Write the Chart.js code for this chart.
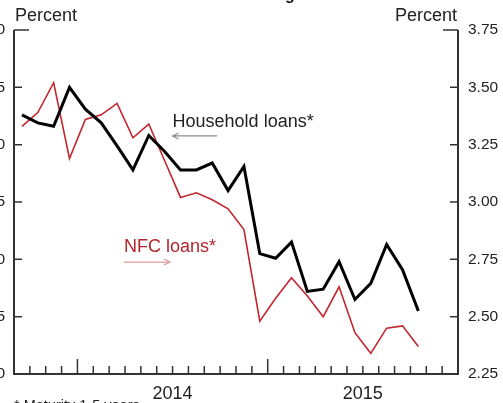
<!DOCTYPE html>
<html>
<head>
<meta charset="utf-8">
<script src="https://cdn.jsdelivr.net/npm/chart.js@4.4.0/dist/chart.umd.min.js"></script>
<style>
html, body { margin: 0; padding: 0; background: #fff; width: 503px; height: 403px; overflow: hidden; }
#wrap { position: absolute; left: -40px; top: -20px; width: 600px; height: 440px; }
</style>
</head>
<body>
<div id="wrap"><canvas id="myChart"></canvas></div>
<script>
// monthly observations, Sep 2013 - Oct 2015
var months = ['Sep 13', 'Oct 13', 'Nov 13', 'Dec 13',
    'Jan 14', 'Feb 14', 'Mar 14', 'Apr 14', 'May 14', 'Jun 14', 'Jul 14', 'Aug 14', 'Sep 14', 'Oct 14', 'Nov 14', 'Dec 14',
    'Jan 15', 'Feb 15', 'Mar 15', 'Apr 15', 'May 15', 'Jun 15', 'Jul 15', 'Aug 15', 'Sep 15', 'Oct 15'];
var householdLoans = [5.26, 5.19, 5.16, 5.50, 5.31, 5.19, 4.99, 4.78, 5.08, 4.94, 4.78, 4.78, 4.84,
    4.60, 4.81, 4.05, 4.01, 4.15, 3.72, 3.74, 3.98, 3.65, 3.79, 4.13, 3.91, 3.55];
var nfcLoans = [3.33, 3.39, 3.52, 3.19, 3.36, 3.38, 3.43, 3.28, 3.34, 3.18, 3.02, 3.04, 3.01,
    2.97, 2.88, 2.48, 2.58, 2.67, 2.59, 2.50, 2.63, 2.43, 2.34, 2.45, 2.46, 2.37];
var leftTicks = [3.0, 3.5, 4.0, 4.5, 5.0, 5.5, 6.0];
var rightTicks = [2.25, 2.50, 2.75, 3.00, 3.25, 3.50, 3.75];
var years = ['2014', '2015'];
var yearStart = [4, 16];   // month index where each year begins
var monthCount = 28;       // axis runs Sep 2013 - Dec 2015

var FONT = '"Liberation Sans", Arial, Helvetica, sans-serif';

function pts(arr) {
    return arr.map(function (v, i) { return { x: i + 0.5, y: v }; });
}

var decor = {
    id: 'decor',
    afterDraw: function (chart) {
        var c = chart.ctx, a = chart.chartArea;
        var xs = chart.scales.x, yl = chart.scales.y, yr = chart.scales.y2;
        c.save();
        // axes
        c.strokeStyle = '#333';
        c.lineWidth = 2;
        c.beginPath();
        c.moveTo(a.left, a.top); c.lineTo(a.left, a.bottom); c.lineTo(a.right, a.bottom); c.lineTo(a.right, a.top);
        c.stroke();
        c.lineWidth = 1.5;
        c.beginPath();
        leftTicks.forEach(function (v, i) {
            var y = yl.getPixelForValue(v);
            var len = i === leftTicks.length - 1 ? 15 : 8;
            c.moveTo(a.left, y); c.lineTo(a.left + len, y);
        });
        rightTicks.forEach(function (v, i) {
            var y = yr.getPixelForValue(v);
            var len = i === rightTicks.length - 1 ? 15 : 8;
            c.moveTo(a.right, y); c.lineTo(a.right - len, y);
        });
        for (var m = 1; m < monthCount; m++) {
            var x = xs.getPixelForValue(m);
            var len = yearStart.indexOf(m) >= 0 ? 15 : 8;
            c.moveTo(x, a.bottom); c.lineTo(x, a.bottom - len);
        }
        c.stroke();

        // unit labels
        c.fillStyle = '#222';
        c.font = '18px ' + FONT;
        c.textBaseline = 'alphabetic';
        c.textAlign = 'left';
        c.fillText('Percent', a.left + 1, a.top - 9);
        c.textAlign = 'right';
        c.fillText('Percent', a.right - 1, a.top - 9);

        // series labels
        c.textAlign = 'left';
        c.fillText('Household loans*', xs.getPixelForValue(10), yr.getPixelForValue(3.327));
        c.fillStyle = '#b5262d';
        c.fillText('NFC loans*', xs.getPixelForValue(6.94), yr.getPixelForValue(2.782));

        // arrows
        c.lineWidth = 1.2;
        c.strokeStyle = '#8c8c8c';
        var ay = yr.getPixelForValue(3.288), ax0 = xs.getPixelForValue(10), ax1 = xs.getPixelForValue(12.8);
        c.beginPath();
        c.moveTo(ax1, ay); c.lineTo(ax0, ay);
        c.moveTo(ax0 + 6, ay - 3); c.lineTo(ax0, ay); c.lineTo(ax0 + 6, ay + 3);
        c.stroke();
        c.strokeStyle = '#e29a9c';
        var by = yr.getPixelForValue(2.738), bx0 = xs.getPixelForValue(6.94), bx1 = xs.getPixelForValue(9.84);
        c.beginPath();
        c.moveTo(bx0, by); c.lineTo(bx1, by);
        c.moveTo(bx1 - 6, by - 3); c.lineTo(bx1, by); c.lineTo(bx1 - 6, by + 3);
        c.stroke();

        // title and footnote (cut by the frame)
        c.fillStyle = '#111';
        c.font = 'bold 16px ' + FONT;
        c.textAlign = 'center';
        c.fillText('Euro-Area Bank Lending Rates', (a.left + a.right) / 2 - 11, a.top - 30);
        c.fillStyle = '#222';
        c.font = '14.5px ' + FONT;
        c.textAlign = 'left';
        c.textBaseline = 'top';
        c.fillText('* Maturity 1-5 years', a.left, a.bottom + 25);
        c.restore();
    }
};

var ctx = document.getElementById('myChart').getContext('2d');
var myChart = new Chart(ctx, {
    type: 'line',
    data: {
        datasets: [{
            label: 'Household loans*',
            data: pts(householdLoans),
            yAxisID: 'y',
            borderColor: '#000',
            borderWidth: 3,
            pointRadius: 0,
            tension: 0
        }, {
            label: 'NFC loans*',
            data: pts(nfcLoans),
            yAxisID: 'y2',
            borderColor: '#c1272d',
            borderWidth: 1.6,
            pointRadius: 0,
            tension: 0
        }]
    },
    options: {
        responsive: true,
        maintainAspectRatio: false,
        animation: false,
        layout: { padding: { top: 50, left: 0, right: 0, bottom: 0 } },
        plugins: {
            legend: { display: false },
            tooltip: { enabled: false }
        },
        scales: {
            x: {
                type: 'linear',
                min: 0,
                max: monthCount,
                grid: { display: false, drawTicks: false },
                border: { display: false },
                afterBuildTicks: function (s) {
                    s.ticks = yearStart.map(function (m) { return { value: m + 6 }; });
                },
                afterFit: function (s) { s.height = 46; },
                ticks: {
                    autoSkip: false,
                    maxRotation: 0,
                    padding: 9,
                    color: '#222',
                    font: { size: 18, family: FONT },
                    callback: function (v) {
                        var i = yearStart.indexOf(v - 6);
                        return i >= 0 ? years[i] : '';
                    }
                }
            },
            y: {
                position: 'left',
                min: leftTicks[0],
                max: leftTicks[leftTicks.length - 1],
                grid: { display: false, drawTicks: false },
                border: { display: false },
                afterFit: function (s) { s.width = 54; },
                ticks: {
                    stepSize: 0.5,
                    padding: 9,
                    color: '#222',
                    font: { size: 15.5, family: FONT },
                    callback: function (v) { return v.toFixed(1); }
                }
            },
            y2: {
                position: 'right',
                min: rightTicks[0],
                max: rightTicks[rightTicks.length - 1],
                grid: { display: false, drawTicks: false },
                border: { display: false },
                afterFit: function (s) { s.width = 102; },
                ticks: {
                    stepSize: 0.25,
                    padding: 10,
                    color: '#222',
                    font: { size: 15.5, family: FONT },
                    callback: function (v) { return v.toFixed(2); }
                }
            }
        }
    },
    plugins: [decor]
});
</script>
</body>
</html>
